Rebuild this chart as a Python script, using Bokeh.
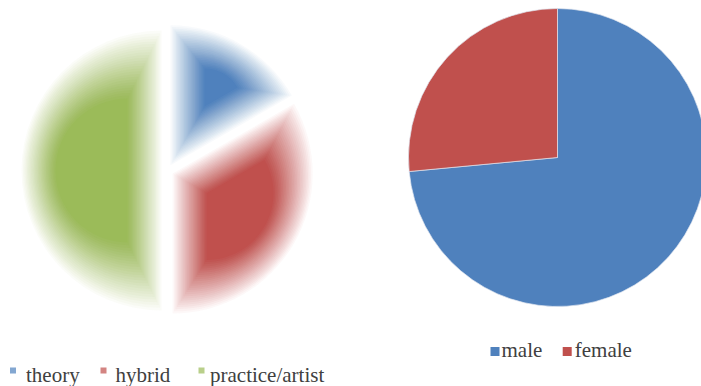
import numpy as np
from bokeh.plotting import figure
from bokeh.models import ColumnDataSource, Range1d, LabelSet
from bokeh.core.properties import value
from bokeh.embed import file_html
from bokeh.resources import INLINE

# ---- data ----
field_labels = ["theory", "hybrid", "practice/artist"]
field_values = [16.7, 33.3, 50.0]
field_colors = ["#4F81BD", "#C0504D", "#9BBB59"]

gender_labels = ["male", "female"]
gender_values = [73.5, 26.5]
gender_colors = ["#4F81BD", "#C0504D"]

# ---- layout ----
W, H = 701, 386


def Y(py):
    return H - py


p = figure(width=W, height=H, x_range=Range1d(0, W), y_range=Range1d(0, H),
           output_backend="svg", toolbar_location=None, x_axis_type=None, y_axis_type=None,
           min_border=0)
p.grid.visible = False
p.outline_line_color = None
p.background_fill_color = "white"
p.border_fill_color = "white"


def angles(vals):
    tot = float(sum(vals))
    cum = np.concatenate([[0.0], np.cumsum(vals)]) / tot
    starts = np.pi / 2 - cum[1:] * 2 * np.pi
    ends = np.pi / 2 - cum[:-1] * 2 * np.pi
    return starts, ends


# ---- left pie: exploded with soft edges (stacked inset wedges) ----
cx, cy, R, explode = 167, Y(170), 140, 6
N, dmax = 26, 34
s1, e1 = angles(field_values)
rows = dict(x=[], y=[], r=[], start=[], end=[], color=[], alpha=[])
for i in range(N):
    d = dmax * i / (N - 1)
    a = 1.0 / (N - i)
    for k in range(len(field_values)):
        h = min((e1[k] - s1[k]) / 2, np.pi / 2)
        mid = (s1[k] + e1[k]) / 2
        shift = explode + d / np.sin(h)
        rr = R - d - d / np.sin(h)
        rows["x"].append(cx + shift * np.cos(mid))
        rows["y"].append(cy + shift * np.sin(mid))
        rows["r"].append(max(rr, 1))
        rows["start"].append(s1[k])
        rows["end"].append(e1[k])
        rows["color"].append(field_colors[k])
        rows["alpha"].append(a)
p.wedge(x="x", y="y", radius="r", start_angle="start", end_angle="end",
        fill_color="color", fill_alpha="alpha", line_color=None, source=ColumnDataSource(rows))

# ---- right pie ----
s2, e2 = angles(gender_values)
src2 = ColumnDataSource(dict(start=s2, end=e2, color=gender_colors, label=gender_labels))
p.wedge(x=557, y=Y(157), radius=149, start_angle="start", end_angle="end",
        fill_color="color", line_color="#dfe6f0", line_width=1, line_alpha=0.7, source=src2)

FONT = "Liberation Serif"
TXT = "#404040"

# ---- left legend ----
lg1_sq_x = [12.5, 103, 201]
lg1_tx_x = [25.5, 115, 209.5]
p.scatter(x=lg1_sq_x, y=[Y(370)] * 3, marker="square", size=6, color=field_colors,
          alpha=0.7, line_color=None)
lsrc1 = ColumnDataSource(dict(x=lg1_tx_x, y=[Y(381)] * 3, t=field_labels))
p.add_layout(LabelSet(x="x", y="y", text="t", source=lsrc1, text_font=FONT,
                      text_font_size="21px", text_color=TXT, text_baseline="alphabetic",
                      text_align="left"))

# ---- right legend ----
lg2_sq_x = [494.5, 566.7]
lg2_tx_x = [501, 574.3]
p.scatter(x=lg2_sq_x, y=[Y(351)] * 2, marker="square", size=9, color=gender_colors,
          line_color=None)
lsrc2 = ColumnDataSource(dict(x=lg2_tx_x, y=[Y(356)] * 2, t=gender_labels))
p.add_layout(LabelSet(x="x", y="y", text="t", source=lsrc2, text_font=FONT,
                      text_font_size="21px", text_color=TXT, text_baseline="alphabetic",
                      text_align="left"))

open("out.html", "w").write(file_html(p, INLINE))
